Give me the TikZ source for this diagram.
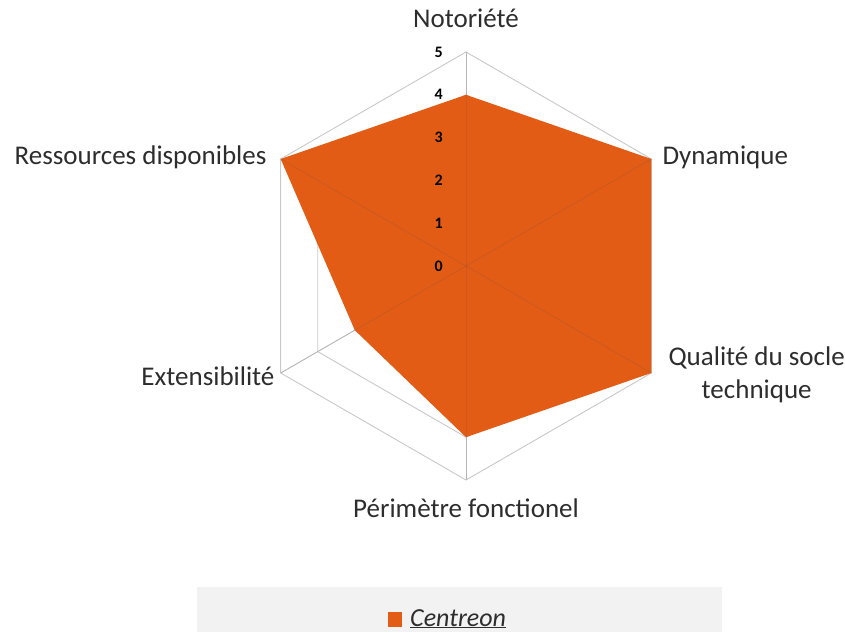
\documentclass[tikz,border=0pt]{standalone}
\usepackage{fontspec}
\setmainfont{Carlito}
\usetikzlibrary{positioning}
\definecolor{centreon}{RGB}{227,92,22}
\definecolor{legendgray}{RGB}{242,242,242}
\definecolor{labelgray}{RGB}{45,45,45}
\definecolor{gridgray}{RGB}{200,200,200}
\begin{document}
\begin{tikzpicture}[x=1pt,y=1pt,
grid/.style={draw=gridgray,line width=0.9pt},
axeover/.style={draw=black!70,opacity=0.15,line width=0.9pt},
axelabel/.style={font=\fontsize{27}{33}\selectfont,text=labelgray,inner sep=0pt},
tick/.style={font=\bfseries\fontsize{16}{18}\selectfont,inner sep=0pt,anchor=east},
legendkey/.style={fill=centreon,minimum width=14pt,minimum height=15pt,inner sep=0pt}]
\useasboundingbox (0,0) rectangle (845,632);
\begin{scope}[shift={(466,366)}]
% sommets de l'axe (valeur 5)
\foreach \a [count=\i] in {90,30,-30,-90,-150,150}
  \coordinate (v\i) at (\a:5*42.8);
% grille
\foreach \r in {1,...,5}
  \draw[grid] (90:\r*42.8) -- (30:\r*42.8) -- (-30:\r*42.8) -- (-90:\r*42.8)
    -- (-150:\r*42.8) -- (150:\r*42.8) -- cycle;
\foreach \i in {1,...,6}
  \draw[grid] (0,0) -- (v\i);
% donnees Centreon
\fill[centreon] (90:4*42.8) -- (30:5*42.8) -- (-30:5*42.8) -- (-90:4*42.8)
  -- (-150:3*42.8) -- (150:5*42.8) -- cycle;
\foreach \i in {1,...,6}
  \draw[axeover] (0,0) -- (v\i);
\foreach \k in {0,...,5}
  \node[tick] (t\k) at (-23,\k*42.8) {\k};
\end{scope}
% libelles des axes
\node[axelabel,anchor=base] (noto) at ([yshift=24pt]v1) {Notoriété};
\node[axelabel,anchor=base west] (dyna) at ([shift={(11pt,-6pt)}]v2) {Dynamique};
\node[axelabel,anchor=west,align=center] (qual) at ([shift={(17pt,-2pt)}]v3) {Qualité du socle\\technique};
\node[axelabel,anchor=base] (peri) at ([yshift=-37pt]v4) {Périmètre fonctionel};
\node[axelabel,anchor=base east] (exte) at ([shift={(-6pt,-13pt)}]v5) {Extensibilité};
\node[axelabel,anchor=base east] (ress) at ([shift={(-14pt,-6pt)}]v6) {Ressources disponibles};
% legende
\fill[legendgray] (197,0) rectangle (722,45);
\node[legendkey] (key) at (395,12.5) {};
\node[axelabel,font=\itshape\fontsize{26}{30}\selectfont,anchor=base west] (leg) at (410,6) {\underline{Centreon}};
\end{tikzpicture}
\end{document}
